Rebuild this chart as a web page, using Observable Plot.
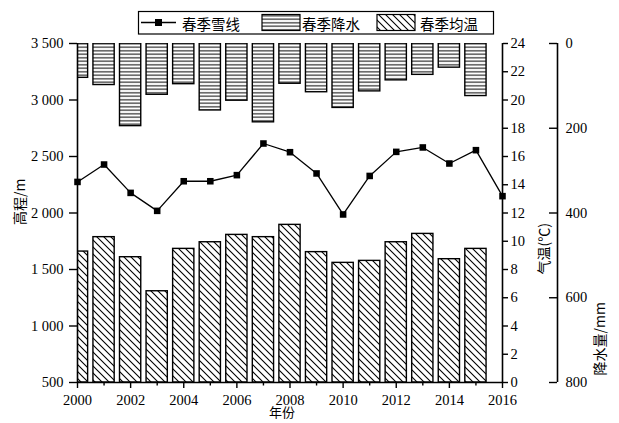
<!DOCTYPE html>
<html><head><meta charset="utf-8">
<script src="https://cdn.jsdelivr.net/npm/d3@7"></script>
<script src="https://cdn.jsdelivr.net/npm/@observablehq/plot@0.6"></script>
<style>
body{margin:0;background:#fff;}
#wrap{position:relative;width:619px;height:423px;overflow:hidden;}
#wrap svg{position:absolute;left:0;top:0;}
</style></head><body><div id="wrap"></div>
<script>
// ---- data ----
const years = [2000,2001,2002,2003,2004,2005,2006,2007,2008,2009,2010,2011,2012,2013,2014,2015,2016];
const snowline = [2275,2429,2178,2019,2281,2281,2335,2615,2538,2350,1987,2328,2541,2580,2438,2556,2149]; // m
const barYears = [2000,2001,2002,2003,2004,2005,2006,2007,2008,2009,2010,2011,2012,2013,2014,2015];
const precip = [81,98,195,121,96,158,135,186,95,115,152,113,87,74,57,124]; // mm
const temp = [9.27,10.29,8.87,6.46,9.46,9.93,10.45,10.29,11.16,9.23,8.47,8.61,9.93,10.52,8.73,9.46]; // °C
const elevTicks = [500,1000,1500,2000,2500,3000,3500];
const tempTicks = [0,2,4,6,8,10,12,14,16,18,20,22,24];
const precipTicks = [0,200,400,600,800];
const xMajor = [2000,2002,2004,2006,2008,2010,2012,2014,2016];
const xMinor = [2001,2003,2005,2007,2009,2011,2013,2015];
const legendLabels = ["春季雪线","春季降水","春季均温"];
const axisLabels = {y:"高程/m", temp:"气温(℃)", precip:"降水量/mm", x:"年份"};

// secondary axes mapped onto the elevation scale (500–3500 m)
const tempToM = t => 500 + t * 3000 / 24;
const precipToM = p => 3500 - p * 3000 / 800;

const serif = "'Liberation Serif','Times New Roman',serif";
const cjk = "'Noto Sans CJK SC','Noto Sans',sans-serif";

function addPatterns(svgSel) {
  const defs = svgSel.insert("defs", ":first-child");
  const ph = defs.append("pattern").attr("id","hlines").attr("patternUnits","userSpaceOnUse")
    .attr("width",8).attr("height",3.5);
  ph.append("rect").attr("width",8).attr("height",3.5).attr("fill","#fff");
  ph.append("rect").attr("x",0).attr("y",1.25).attr("width",8).attr("height",1).attr("fill","#000");
  const pd = defs.append("pattern").attr("id","diag").attr("patternUnits","userSpaceOnUse")
    .attr("width",7).attr("height",7);
  pd.append("rect").attr("width",7).attr("height",7).attr("fill","#fff");
  pd.append("path").attr("d","M-1,-1L8,8M-1,6L1,8M6,-1L8,1").attr("stroke","#000").attr("stroke-width",1.1).attr("fill","none");
}

const fmtElev = d => d >= 1000 ? `${Math.floor(d/1000)} ${String(d%1000).padStart(3,"0")}` : String(d);

const snowRows = years.map((year,i) => ({year, v: snowline[i]}));
const barRows = barYears.map((year,i) => ({year, p: precip[i], t: temp[i]}));

const wrap = document.getElementById("wrap");
const chart = Plot.plot({
  width: 619, height: 423,
  marginLeft: 77, marginRight: 117, marginTop: 43, marginBottom: 41,
  style: {fontFamily: serif, fontSize: "14px", color: "#000", background: "#fff", overflow: "visible"},
  x: {domain: [2000, 2016]},
  y: {domain: [500, 3500]},
  marks: [
    Plot.rectY(barRows, {x1: d => d.year - 0.4, x2: d => d.year + 0.4, y1: () => precipToM(0), y2: d => precipToM(d.p),
      fill: "url(#hlines)", stroke: "#000", strokeWidth: 1.4, clip: true}),
    Plot.rectY(barRows, {x1: d => d.year - 0.4, x2: d => d.year + 0.4, y1: () => tempToM(0), y2: d => tempToM(d.t),
      fill: "url(#diag)", stroke: "#000", strokeWidth: 1.4, clip: true}),
    Plot.line(snowRows, {x: "year", y: "v", stroke: "#000", strokeWidth: 1.3}),
    Plot.dot(snowRows, {x: "year", y: "v", symbol: "square", r: 3.7, fill: "#000"}),
    // axis lines
    Plot.ruleX([2000], {stroke: "#000", strokeWidth: 1.6}),
    Plot.ruleX([2016], {stroke: "#000", strokeWidth: 1.6}),
    Plot.ruleX([2016], {dx: 55, stroke: "#000", strokeWidth: 1.6}),
    Plot.ruleY([500], {stroke: "#000", strokeWidth: 1.6}),
    // x axis
    Plot.axisX({ticks: xMajor, tickFormat: d => String(d), tickSize: 6, tickPadding: 6.5, label: null, fontSize: 14.5, strokeWidth: 1.4}),
    Plot.axisX({ticks: xMinor, tickFormat: () => "", tickSize: 3.5, label: null, strokeWidth: 1.4}),
    // left elevation axis
    Plot.axisY({anchor: "left", ticks: elevTicks, tickFormat: fmtElev, tickSize: 8, tickPadding: 6, label: null, fontSize: 14.5, strokeWidth: 1.4}),
    // temperature axis
    Plot.axisY({anchor: "right", ticks: tempTicks.map(tempToM), tickFormat: m => String(Math.round((m - 500) * 24 / 3000)),
      tickSize: 5, tickPadding: 3, label: null, fontSize: 14.5, strokeWidth: 1.4}),
    // precipitation axis (ticks inward, labels outward)
    Plot.axisY({anchor: "left", dx: 480, ticks: precipTicks.map(precipToM), tickFormat: () => "", tickSize: 8, label: null, strokeWidth: 1.4}),
    Plot.axisY({anchor: "right", dx: 55, ticks: precipTicks.map(precipToM), tickFormat: m => String(Math.round((3500 - m) * 800 / 3000)),
      tickSize: 0, tickPadding: 8, label: null, fontSize: 14.5}),
    // axis titles
    Plot.text([axisLabels.y], {text: d => d, frameAnchor: "left", dx: -57, dy: 12, rotate: -90, fontFamily: cjk, fontSize: 14, fill: "#000"}),
    Plot.text([axisLabels.temp], {text: d => d, frameAnchor: "right", dx: 42, dy: 10, rotate: -90, fontFamily: cjk, fontSize: 14, fill: "#000"}),
    Plot.text([axisLabels.precip], {text: d => d, frameAnchor: "right", dx: 98, dy: 89, rotate: -90, fontFamily: cjk, fontSize: 14, fill: "#000"}),
    Plot.text([axisLabels.x], {text: d => d, frameAnchor: "bottom", dx: -8, dy: 34, fontFamily: cjk, fontSize: 13, fill: "#000"})
  ]
});
addPatterns(d3.select(chart));
wrap.appendChild(chart);

// legend
const lg = d3.select(wrap).append("svg").attr("width", 619).attr("height", 40)
  .style("font-family", cjk).style("font-size", "14.5px");
lg.append("rect").attr("x",138.5).attr("y",11.5).attr("width",355).attr("height",22.5)
  .attr("fill","#fff").attr("stroke","#000").attr("stroke-width",1.2);
lg.append("line").attr("x1",141).attr("x2",176).attr("y1",22.5).attr("y2",22.5).attr("stroke","#000").attr("stroke-width",1.3);
lg.append("rect").attr("x",155).attr("y",19).attr("width",7).attr("height",7).attr("fill","#000");
lg.append("rect").attr("x",262).attr("y",14.5).attr("width",38).attr("height",16).attr("fill","url(#hlines)").attr("stroke","#000").attr("stroke-width",1.2);
lg.append("rect").attr("x",377).attr("y",14.5).attr("width",38).attr("height",16).attr("fill","url(#diag)").attr("stroke","#000").attr("stroke-width",1.2);
const lx = [182, 302, 420];
legendLabels.forEach((t,i) => {
  lg.append("text").attr("x", lx[i]).attr("y", 23).attr("dominant-baseline","central").attr("fill","#000").text(t);
});
</script></body></html>
